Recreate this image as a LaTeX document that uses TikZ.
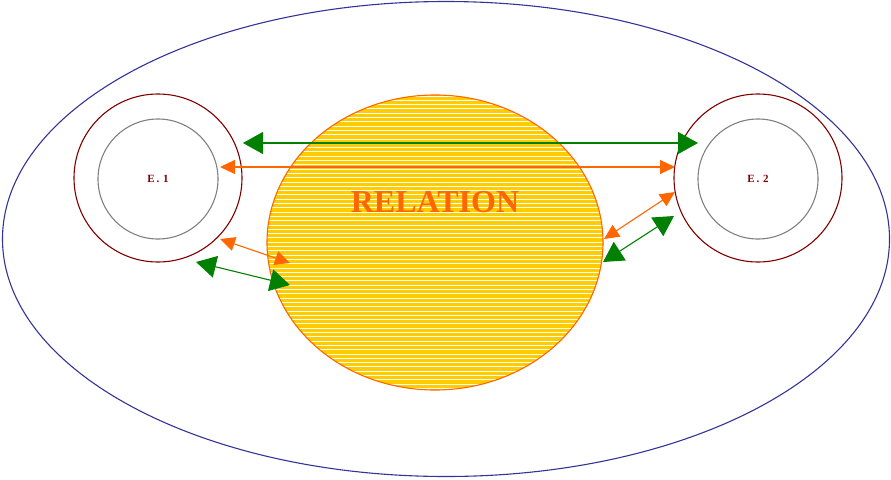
\documentclass[tikz,border=0pt]{standalone}
\usepackage{fontspec}
\setmainfont{Liberation Serif}
\usepackage{tikz}
\usetikzlibrary{arrows.meta, positioning, shapes.geometric}
\definecolor{navyline}{HTML}{333399}
\definecolor{darkred}{HTML}{800000}
\definecolor{relorange}{HTML}{FF6600}
\definecolor{relyellow}{HTML}{FFCC00}
\definecolor{relgreen}{HTML}{008000}

\begin{document}
\begin{tikzpicture}[x=1pt, y=-1pt,
    greenarrow/.style={draw=relgreen, line width=1.1pt, {Triangle[length=20pt, width=22pt]}-{Triangle[length=20pt, width=22pt]}},
    orangearrow/.style={draw=relorange, line width=1.1pt, {Triangle[length=15pt, width=14pt]}-{Triangle[length=15pt, width=14pt]}},
    entity/.style={circle, draw=darkred, line width=1.1pt, minimum size=168pt, inner sep=0pt},
    inner/.style={circle, draw=gray, line width=1.1pt, minimum size=120pt, inner sep=0pt, font=\fontsize{11}{12}\bfseries\selectfont, text=darkred}]
    \useasboundingbox (0,0) rectangle (891,479);

    % Outer boundary
    \node[ellipse, draw=navyline, line width=1.1pt, minimum width=887pt, minimum height=475pt, inner sep=0pt] (world) at (446,239) {};

    % Relation ellipse, hatched yellow
    \fill[relyellow] (435,242.5) ellipse [x radius=168, y radius=147.5];
    \begin{scope}
      \clip (435,242.5) ellipse [x radius=168, y radius=147.5];
      \foreach \y in {96,100.3,...,392}
        \draw[white, line width=0.9pt] (260,\y) -- (610,\y);
    \end{scope}
    \node[ellipse, draw=relorange, line width=1.1pt, minimum width=336pt, minimum height=295pt, inner sep=0pt] (rel) at (435,242.5) {};
    \node[text=relorange, font=\fontsize{32}{36}\bfseries\selectfont] (reltext) at (435,202) {RELATION};

    % Entities
    \node[entity] (e1) at (158,178) {};
    \node[inner] (e1in) at (158,179) {E\,.\,\,1};
    \node[entity] (e2) at (758,178) {};
    \node[inner] (e2in) at (758,179) {E\,.\,\,2};

    % Arrow end points
    \coordinate (g1a) at (243,143);
    \coordinate (g1b) at (698,143);
    \coordinate (o1a) at (220,167);
    \coordinate (o1b) at (675,167);
    \coordinate (o2a) at (220,239);
    \coordinate (o2b) at (290,263);
    \coordinate (g2a) at (196,262);
    \coordinate (g2b) at (290,285);
    \coordinate (o3a) at (604,239);
    \coordinate (o3b) at (675,192);
    \coordinate (g3a) at (603,262);
    \coordinate (g3b) at (674,216);

    % Connectors
    \draw[greenarrow] (g1a) -- (g1b);
    \draw[orangearrow] (o1a) -- (o1b);
    \draw[orangearrow] (o2a) -- (o2b);
    \draw[greenarrow] (g2a) -- (g2b);
    \draw[orangearrow] (o3a) -- (o3b);
    \draw[greenarrow] (g3a) -- (g3b);
\end{tikzpicture}
\end{document}
